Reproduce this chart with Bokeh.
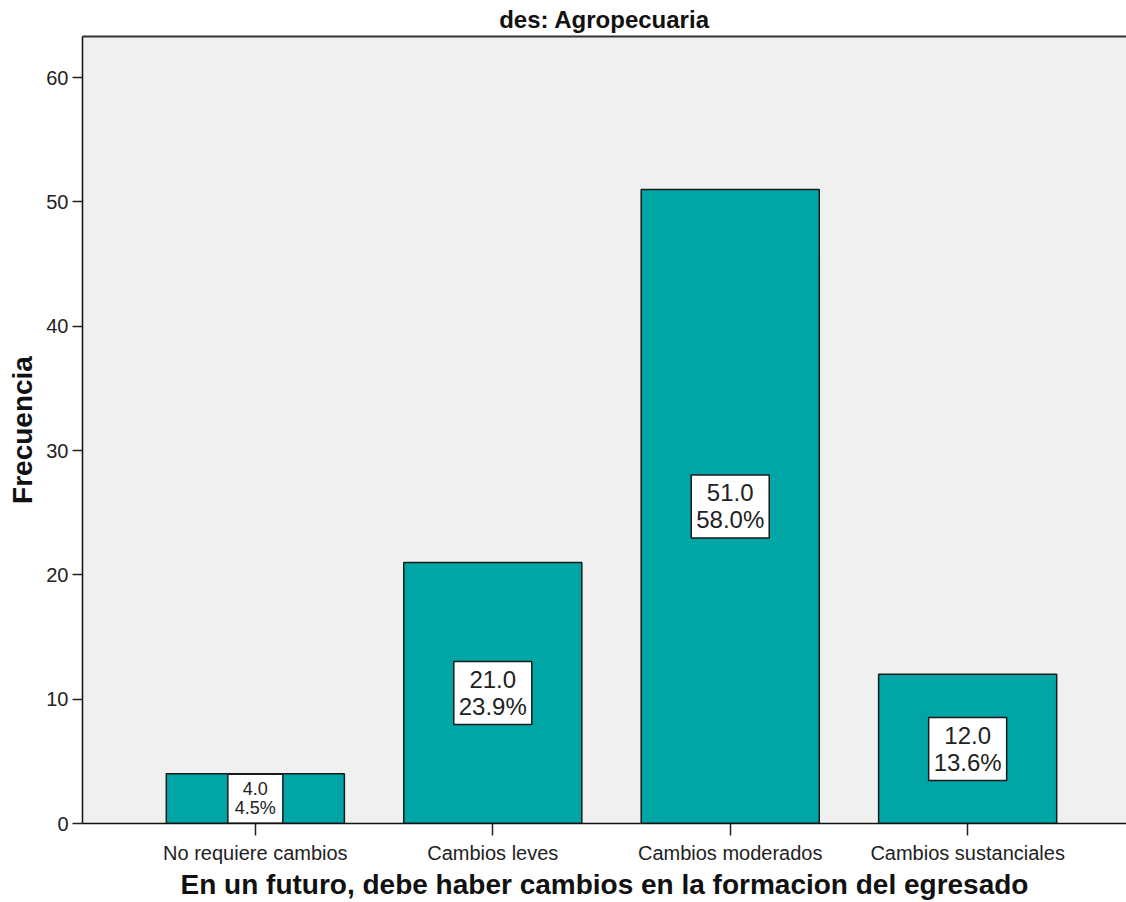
from bokeh.plotting import figure
from bokeh.models import ColumnDataSource, FixedTicker, LinearAxis, Range1d
from bokeh.embed import file_html
from bokeh.resources import INLINE
from bokeh.core.properties import value

# ---- data ----
categories = ["No requiere cambios", "Cambios leves", "Cambios moderados", "Cambios sustanciales"]
counts = [4, 21, 51, 12]
y_ticks = [0, 10, 20, 30, 40, 50, 60]
title_text = "des: Agropecuaria"
x_label = "En un futuro, debe haber cambios en la formacion del egresado"
y_label = "Frecuencia"

total = sum(counts)
xs = list(range(len(categories)))
pct = [c / total * 100 for c in counts]
labels = ["%.1f\n%.1f%%" % (c, q) for c, q in zip(counts, pct)]

FONT = "Liberation Sans"
TEAL = "#00A5A5"

p = figure(width=1126, height=902, output_backend="svg", toolbar_location=None,
           x_range=Range1d(-0.728, 3.669), y_range=Range1d(0, 63.3),
           min_border_left=82, min_border_bottom=0, min_border_top=0, min_border_right=0,
           background_fill_color="#F0F0F0", border_fill_color="white")
p.outline_line_color = None
p.xgrid.visible = False
p.ygrid.visible = False

p.title.text = title_text
p.title.align = "center"
p.title.text_font = FONT
p.title.text_font_size = "24px"
p.title.text_font_style = "bold"
p.title.text_color = "#111111"
p.title.standoff = 7
p.title.offset = 0

src = ColumnDataSource(dict(x=xs, top=counts, mid=[c / 2 for c in counts], lab=labels))
p.vbar(x="x", top="top", bottom=0, width=0.75, source=src,
       fill_color=TEAL, line_color="#1a1a1a", line_width=1.5)

# label boxes
big = [i for i, c in enumerate(counts) if c >= 10]
small = [i for i, c in enumerate(counts) if c < 10]
for idx, (w, h, fs, lh) in ((big, (78, 63, "24px", 1.0)), (small, (55, 49, "18px", 0.95))):
    if not idx:
        continue
    s = ColumnDataSource(dict(x=[xs[i] for i in idx], y=[counts[i] / 2 for i in idx],
                              lab=[labels[i] for i in idx]))
    p.rect(x="x", y="y", width=w, height=h, width_units="screen", height_units="screen",
           source=s, fill_color="white", line_color="#1a1a1a", line_width=1.5)
    p.text(x="x", y="y", text="lab", source=s, text_align="center", text_baseline="middle",
           text_font=value(FONT), text_font_size=fs, text_color="#222222", text_line_height=lh)

# y axis
ya = p.yaxis[0]
ya.ticker = FixedTicker(ticks=y_ticks)
ya.minor_tick_line_color = None
ya.major_tick_in = 0
ya.major_tick_out = 10
ya.major_tick_line_width = 1.5
ya.major_tick_line_color = "#222222"
ya.axis_line_color = "#111111"
ya.axis_line_width = 1.5
ya.major_label_text_font = FONT
ya.major_label_text_font_size = "20px"
ya.major_label_text_color = "#222222"
ya.major_label_standoff = 4
ya.axis_label = y_label
ya.axis_label_text_font = FONT
ya.axis_label_text_font_size = "28px"
ya.axis_label_text_font_style = "bold"
ya.axis_label_text_color = "#111111"
ya.axis_label_standoff = 5

# x axis
xa = p.xaxis[0]
xa.ticker = FixedTicker(ticks=xs)
xa.major_label_overrides = {i: c for i, c in zip(xs, categories)}
xa.minor_tick_line_color = None
xa.major_tick_in = 0
xa.major_tick_out = 12
xa.major_tick_line_width = 1.5
xa.major_tick_line_color = "#222222"
xa.axis_line_color = "#111111"
xa.axis_line_width = 1.5
xa.major_label_text_font = FONT
xa.major_label_text_font_size = "20px"
xa.major_label_text_color = "#222222"
xa.major_label_standoff = 6
xa.axis_label = x_label
xa.axis_label_text_font = FONT
xa.axis_label_text_font_size = "28px"
xa.axis_label_text_font_style = "bold"
xa.axis_label_text_color = "#111111"
xa.axis_label_standoff = 2

# top frame line
top = LinearAxis(ticker=FixedTicker(ticks=[]), axis_line_color="#333333", axis_line_width=2,
                 major_tick_out=0, major_tick_in=0, minor_tick_out=0, minor_tick_in=0,
                 major_label_text_font_size="0px")
p.add_layout(top, "above")

open("out.html", "w").write(file_html(p, INLINE))
